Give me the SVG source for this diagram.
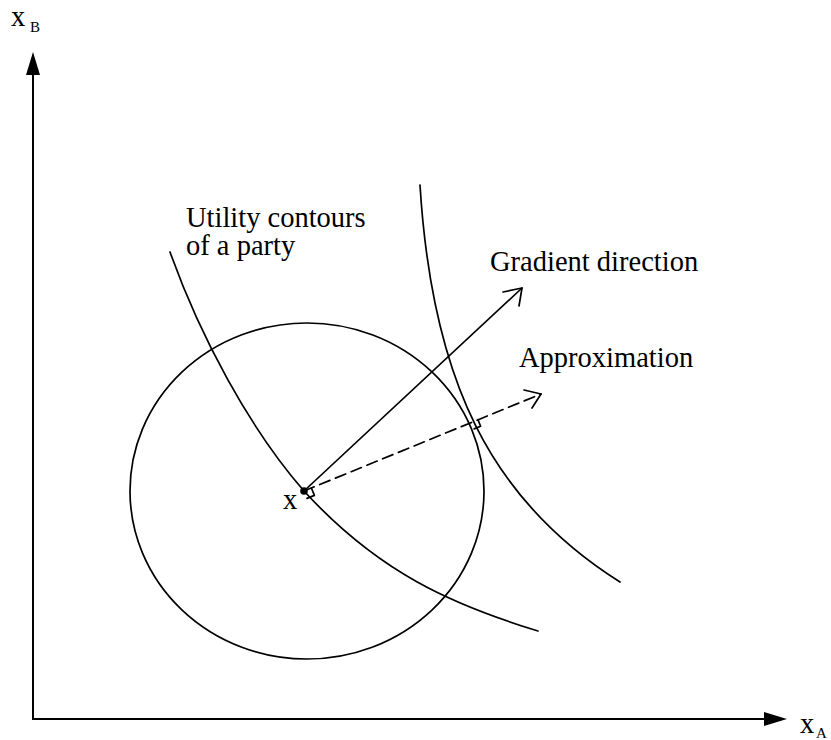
<svg xmlns="http://www.w3.org/2000/svg" width="831" height="740" viewBox="0 0 831 740">
<style>
.ln{fill:none;stroke:#000;stroke-width:1.7;stroke-linecap:round;stroke-linejoin:round}
.ax{fill:none;stroke:#000;stroke-width:2}
.t{font-family:"Liberation Serif","Times New Roman",serif;font-size:28.5px;fill:#000}
.s{font-family:"Liberation Serif","Times New Roman",serif;font-size:15px;fill:#000}
</style>
<rect width="831" height="740" fill="#fff"/>
<g id="axes">
  <line class="ax" x1="33" y1="72" x2="33" y2="719"/>
  <line class="ax" x1="32" y1="719" x2="766" y2="719"/>
  <polygon points="33,52 26,75 40,75" fill="#000"/>
  <polygon points="787,719 764,712 764,726" fill="#000"/>
  <text class="t" x="11" y="26">x</text><text class="s" x="30" y="32">B</text>
  <text class="t" x="800" y="733">x</text><text class="s" x="816" y="738">A</text>
</g>
<g id="circle">
  <ellipse class="ln" cx="307" cy="491" rx="177" ry="168"/>
</g>
<g id="contour1">
  <path class="ln" d="M170,252 C200,336 249,428 304,491 C379,573 453,605 538,631"/>
  <text class="t" x="186" y="227">Utility contours</text>
  <text class="t" x="186" y="255">of a party</text>
</g>
<g id="contour2">
  <path class="ln" d="M420,185 C432,380 490,500 620,582"/>
</g>
<g id="point-x">
  <circle cx="304" cy="491" r="3.8" fill="#000"/>
  <text class="t" x="283" y="509">x</text>
</g>
<g id="connectors">
  <g id="gradient">
    <line class="ln" x1="304" y1="491" x2="522" y2="288"/>
    <polyline class="ln" points="503,292 522,288 519,306"/>
    <text class="t" x="490" y="271">Gradient direction</text>
  </g>
  <g id="approximation">
    <line class="ln" x1="304" y1="491" x2="541" y2="394" stroke-dasharray="11,6"/>
    <polyline class="ln" points="524,390 541,394 532,408"/>
    <text class="t" x="519" y="367">Approximation</text>
  </g>
  <path class="ln" stroke-width="1.3" d="M311.4,488 L314.4,495.4 L307,498.4"/>
  <path class="ln" stroke-width="1.3" d="M478,419.7 L480.6,426.2 L474.2,428.9"/>
</g>
</svg>
